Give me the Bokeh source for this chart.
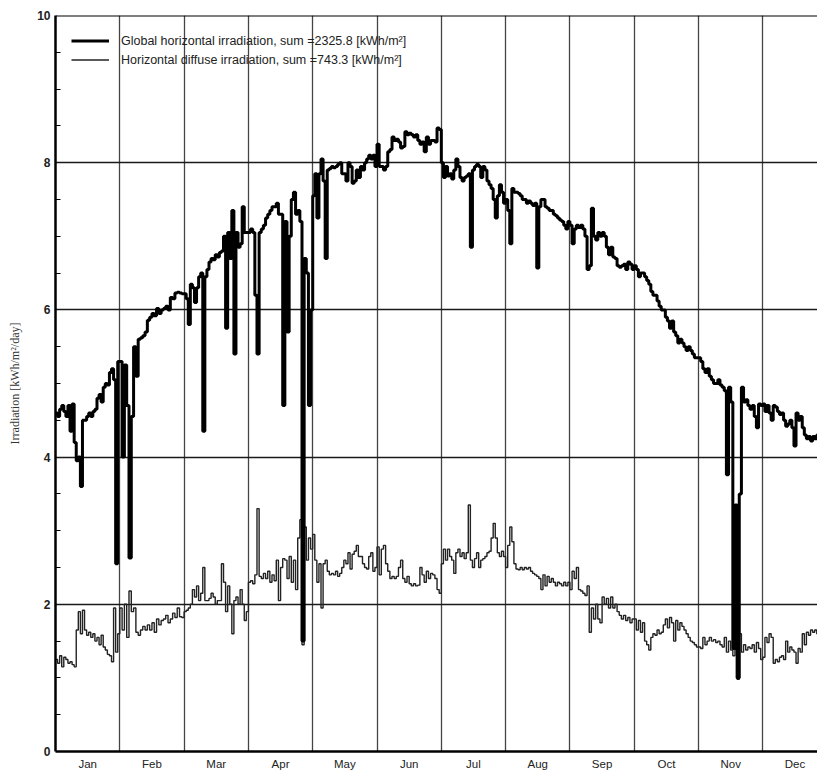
from bokeh.plotting import figure
from bokeh.models import FixedTicker, Span, Legend, LegendItem
from bokeh.embed import file_html
from bokeh.resources import INLINE

months = ["Jan", "Feb", "Mar", "Apr", "May", "Jun", "Jul", "Aug", "Sep", "Oct", "Nov", "Dec"]
y_major_ticks = [0, 2, 4, 6, 8, 10]

# Global horizontal irradiation, daily values [kWh/m²/day]
global_jan = [4.6, 4.55, 4.65, 4.7, 4.62, 4.55, 4.7, 4.35, 4.72, 4.2,
              3.95, 4.0, 3.6, 4.5, 4.5, 4.55, 4.6, 4.55, 4.62, 4.65,
              4.8, 4.85, 4.75, 4.95, 5.0, 4.98, 5.15, 5.2, 5.05, 2.55, 5.3]
global_feb = [5.3, 4.0, 5.25, 4.7, 2.63, 4.55, 5.5, 5.1, 5.6, 5.62,
              5.65, 5.7, 5.86, 5.9, 5.95, 5.92, 6.02, 5.95, 6.0, 6.02,
              6.05, 6.0, 6.17, 6.15, 6.23, 6.24, 6.23, 6.22]
global_mar = [6.22, 6.15, 5.8, 6.35, 6.3, 6.1, 6.3, 6.45, 6.5, 4.35,
              6.45, 6.55, 6.65, 6.7, 6.68, 6.75, 6.72, 6.78, 6.8, 7.0,
              5.75, 7.05, 6.7, 7.35, 5.4, 7.05, 6.85, 6.9, 7.4, 7.05, 7.05]
global_apr = [7.05, 7.1, 7.05, 6.2, 5.4, 7.05, 7.1, 7.15, 7.25, 7.3,
              7.35, 7.4, 7.4, 7.45, 7.3, 7.3, 4.7, 7.2, 5.7, 7.0,
              7.5, 7.6, 7.3, 7.35, 7.2, 1.5, 6.7, 6.5, 4.7, 6.0]
global_may = [7.55, 7.85, 7.25, 7.85, 8.05, 7.75, 6.7, 7.9, 7.92, 7.95,
              7.93, 7.95, 7.98, 8.0, 7.85, 7.85, 7.75, 8.0, 7.95, 7.72,
              7.75, 7.9, 7.8, 7.95, 7.9, 8.0, 8.05, 8.1, 8.05, 8.1, 7.95]
global_jun = [8.25, 7.95, 7.95, 7.9, 7.95, 8.15, 8.18, 8.35, 8.3, 8.32,
              8.28, 8.2, 8.22, 8.42, 8.38, 8.4, 8.38, 8.35, 8.38, 8.3,
              8.25, 8.28, 8.15, 8.35, 8.25, 8.3, 8.3, 8.28, 8.47, 8.45]
global_jul = [8.0, 7.8, 7.95, 7.82, 7.85, 7.78, 7.9, 8.05, 7.95, 7.8,
              7.75, 7.8, 7.82, 7.85, 6.85, 7.9, 7.95, 7.98, 7.95, 7.8,
              7.95, 7.9, 7.75, 7.7, 7.65, 7.5, 7.25, 7.55, 7.7, 7.6, 7.45]
global_aug = [7.5, 7.35, 6.9, 7.65, 7.6, 7.6, 7.58, 7.55, 7.5, 7.5,
              7.45, 7.48, 7.45, 7.42, 7.45, 6.57, 7.4, 7.5, 7.5, 7.4,
              7.38, 7.35, 7.35, 7.3, 7.28, 7.25, 7.22, 7.2, 7.15, 7.1, 7.2]
global_sep = [7.15, 6.9, 7.1, 7.15, 7.12, 7.15, 7.1, 7.0, 6.55, 6.6,
              7.38, 7.0, 6.95, 7.05, 7.0, 7.05, 7.0, 6.85, 6.75, 6.85,
              6.72, 6.7, 6.6, 6.58, 6.6, 6.62, 6.55, 6.65, 6.62, 6.55]
global_oct = [6.6, 6.55, 6.45, 6.5, 6.5, 6.45, 6.4, 6.35, 6.25, 6.2,
              6.2, 6.12, 6.05, 6.0, 6.0, 5.9, 5.85, 5.75, 5.85, 5.7,
              5.65, 5.55, 5.6, 5.55, 5.5, 5.45, 5.5, 5.45, 5.4, 5.35, 5.35]
global_nov = [5.35, 5.3, 5.2, 5.15, 5.2, 5.1, 5.05, 5.0, 5.0, 5.05,
              4.98, 4.95, 4.9, 3.76, 4.95, 4.75, 1.4, 3.35, 1.0, 3.5,
              4.95, 4.75, 4.78, 4.7, 4.65, 4.7, 4.55, 4.4, 4.72, 4.7]
global_dec = [4.72, 4.62, 4.7, 4.6, 4.5, 4.7, 4.68, 4.62, 4.58, 4.6,
              4.5, 4.42, 4.45, 4.5, 4.4, 4.15, 4.6, 4.5, 4.55, 4.4,
              4.3, 4.25, 4.28, 4.22, 4.28, 4.25, 4.3, 4.25, 4.28, 4.3, 4.3]

# Horizontal diffuse irradiation, daily values [kWh/m²/day]
diffuse_jan = [1.25, 1.2, 1.3, 1.15, 1.28, 1.25, 1.2, 1.22, 1.18, 1.15,
               1.65, 1.9, 1.6, 1.92, 1.65, 1.58, 1.62, 1.55, 1.6, 1.5,
               1.55, 1.45, 1.58, 1.42, 1.38, 1.32, 1.3, 1.22, 1.95, 1.35, 1.6]
diffuse_feb = [1.95, 1.65, 2.0, 1.55, 2.18, 1.9, 1.95, 1.62, 1.58, 1.65,
               1.7, 1.65, 1.72, 1.65, 1.75, 1.62, 1.8, 1.72, 1.78, 1.8,
               1.85, 1.75, 1.8, 1.88, 1.82, 1.95, 1.83, 1.82]
diffuse_mar = [1.9, 1.92, 1.95, 2.0, 2.2, 2.1, 2.25, 2.05, 2.15, 2.5,
               2.05, 2.05, 2.08, 2.15, 2.1, 2.0, 2.05, 2.05, 2.55, 2.3,
               1.9, 2.25, 2.0, 1.6, 2.05, 2.1, 2.0, 2.2, 2.0, 1.78, 1.9]
diffuse_apr = [2.3, 2.32, 2.28, 2.4, 3.3, 2.38, 2.35, 2.42, 2.35, 2.45,
               2.3, 2.4, 2.32, 2.6, 2.05, 2.5, 2.62, 2.6, 2.35, 2.65,
               2.3, 2.6, 2.2, 2.9, 3.15, 1.45, 3.05, 2.6, 2.9, 2.75]
diffuse_may = [2.95, 2.6, 2.3, 2.55, 1.95, 2.55, 2.6, 2.45, 2.4, 2.42,
               2.4, 2.45, 2.38, 2.42, 2.5, 2.6, 2.55, 2.7, 2.48, 2.68,
               2.72, 2.8, 2.65, 2.65, 2.55, 2.5, 2.48, 2.65, 2.7, 2.45, 2.5]
diffuse_jun = [2.78, 2.4, 2.75, 2.8, 2.55, 2.45, 2.35, 2.38, 2.35, 2.38,
               2.5, 2.6, 2.35, 2.3, 2.38, 2.28, 2.25, 2.28, 2.25, 2.26,
               2.5, 2.4, 2.3, 2.45, 2.35, 2.42, 2.4, 2.35, 2.2, 2.15]
diffuse_jul = [2.55, 2.75, 2.6, 2.75, 2.65, 2.6, 2.42, 2.7, 2.75, 2.65,
               2.7, 2.62, 2.7, 3.35, 2.6, 2.5, 2.62, 2.7, 2.5, 2.6,
               2.62, 2.65, 2.7, 2.72, 2.9, 3.1, 2.9, 2.7, 2.65, 2.72, 2.65]
diffuse_aug = [2.5, 2.8, 3.05, 2.85, 2.55, 2.48, 2.47, 2.5, 2.47, 2.5,
               2.48, 2.5, 2.45, 2.42, 2.4, 2.38, 2.35, 2.2, 2.4, 2.25,
               2.38, 2.3, 2.35, 2.3, 2.25, 2.3, 2.28, 2.25, 2.3, 2.25, 2.3]
diffuse_sep = [2.2, 2.45, 2.35, 2.5, 2.2, 2.18, 2.15, 2.12, 2.25, 1.62,
               1.95, 1.8, 2.0, 1.8, 1.75, 2.1, 2.0, 2.08, 1.95, 2.1,
               1.95, 2.0, 1.9, 1.85, 1.8, 1.85, 1.78, 1.82, 1.75, 1.8]
diffuse_oct = [1.8, 1.65, 1.78, 1.62, 1.75, 1.5, 1.45, 1.38, 1.55, 1.6,
               1.58, 1.65, 1.6, 1.62, 1.72, 1.8, 1.68, 1.82, 1.75, 1.5,
               1.78, 1.65, 1.75, 1.7, 1.65, 1.6, 1.55, 1.5, 1.48, 1.45, 1.42]
diffuse_nov = [1.42, 1.4, 1.55, 1.45, 1.5, 1.55, 1.5, 1.52, 1.48, 1.5,
               1.45, 1.42, 1.55, 1.35, 1.5, 1.38, 1.3, 1.8, 0.98, 1.6,
               1.35, 1.45, 1.38, 1.42, 1.4, 1.45, 1.35, 1.48, 1.4, 1.25]
diffuse_dec = [1.28, 1.55, 1.48, 1.6, 1.55, 1.2, 1.25, 1.22, 1.28, 1.3,
               1.25, 1.5, 1.35, 1.42, 1.38, 1.35, 1.2, 1.4, 1.35, 1.6,
               1.45, 1.62, 1.58, 1.65, 1.62, 1.65, 1.6, 1.62, 1.65, 1.6, 1.62]

global_label = "Global horizontal irradiation, sum =2325.8 [kWh/m²]"
diffuse_label = "Horizontal diffuse irradiation, sum =743.3 [kWh/m²]"

global_months = [global_jan, global_feb, global_mar, global_apr, global_may, global_jun,
                 global_jul, global_aug, global_sep, global_oct, global_nov, global_dec]
diffuse_months = [diffuse_jan, diffuse_feb, diffuse_mar, diffuse_apr, diffuse_may, diffuse_jun,
                  diffuse_jul, diffuse_aug, diffuse_sep, diffuse_oct, diffuse_nov, diffuse_dec]


def step_xy(month_lists):
    xs, ys = [], []
    for m, vals in enumerate(month_lists):
        n = len(vals)
        for d, v in enumerate(vals):
            xs.append(m + d / n)
            ys.append(v)
    xs.append(float(len(month_lists)))
    ys.append(month_lists[-1][-1])
    return xs, ys


gx, gy = step_xy(global_months)
dx, dy = step_xy(diffuse_months)

p = figure(width=817, height=772, x_range=(0, 11.85), y_range=(0, 10),
           output_backend="svg", toolbar_location=None,
           min_border_left=55, min_border_right=0, min_border_top=15, min_border_bottom=20)
p.outline_line_color = None
p.background_fill_color = "white"
p.border_fill_color = "white"

r_diff = p.step(dx, dy, mode="after", line_color="#222222", line_width=1.4)
r_glob = p.step(gx, gy, mode="after", line_color="black", line_width=3.0)

# grids
p.xgrid.ticker = FixedTicker(ticks=list(range(1, 12)))
p.xgrid.grid_line_color = "#444444"
p.xgrid.grid_line_width = 1.3
p.ygrid.ticker = FixedTicker(ticks=[2, 4, 6, 8])
p.ygrid.grid_line_color = "#1a1a1a"
p.ygrid.grid_line_width = 1.6

p.add_layout(Span(location=10, dimension="width", line_color="black", line_width=2.2))

# y axis
minor = [v / 2 for v in range(1, 20) if v % 4 != 0]
p.yaxis.ticker = FixedTicker(ticks=y_major_ticks, minor_ticks=minor)
p.yaxis.major_tick_in = 0
p.yaxis.major_tick_out = 0
p.yaxis.minor_tick_in = 5
p.yaxis.minor_tick_out = 0
p.yaxis.minor_tick_line_color = "black"
p.yaxis.axis_line_width = 2.5
p.yaxis.axis_line_color = "black"
p.yaxis.major_label_standoff = 5
p.yaxis.major_label_text_font = "Liberation Sans"
p.yaxis.major_label_text_font_size = "12px"
p.yaxis.major_label_text_font_style = "bold"
p.yaxis.major_label_text_color = "#222222"
p.yaxis.axis_label = "Irradiation [kWh/m²/day]"
p.yaxis.axis_label_text_font = "Liberation Serif"
p.yaxis.axis_label_text_font_size = "12px"
p.yaxis.axis_label_text_font_style = "normal"
p.yaxis.axis_label_text_color = "#333333"
p.yaxis.axis_label_standoff = 12

# x axis
p.xaxis.ticker = FixedTicker(ticks=[i + 0.5 for i in range(12)])
p.xaxis.major_label_overrides = {i + 0.5: m for i, m in enumerate(months)}
p.xaxis.major_tick_in = 0
p.xaxis.major_tick_out = 0
p.xaxis.minor_tick_line_color = None
p.xaxis.axis_line_width = 2.5
p.xaxis.axis_line_color = "black"
p.xaxis.major_label_standoff = 6
p.xaxis.major_label_text_font = "Liberation Sans"
p.xaxis.major_label_text_font_size = "11.5px"
p.xaxis.major_label_text_color = "#222222"

legend = Legend(items=[LegendItem(label=global_label, renderers=[r_glob]),
                       LegendItem(label=diffuse_label, renderers=[r_diff])],
                location="top_left", margin=0, padding=16, spacing=0,
                glyph_width=38, glyph_height=19, label_height=19, label_standoff=12,
                background_fill_alpha=0, border_line_alpha=0,
                label_text_font="Liberation Sans", label_text_font_size="12.5px",
                label_text_color="#222222")
p.add_layout(legend)

open("out.html", "w").write(file_html(p, INLINE))
